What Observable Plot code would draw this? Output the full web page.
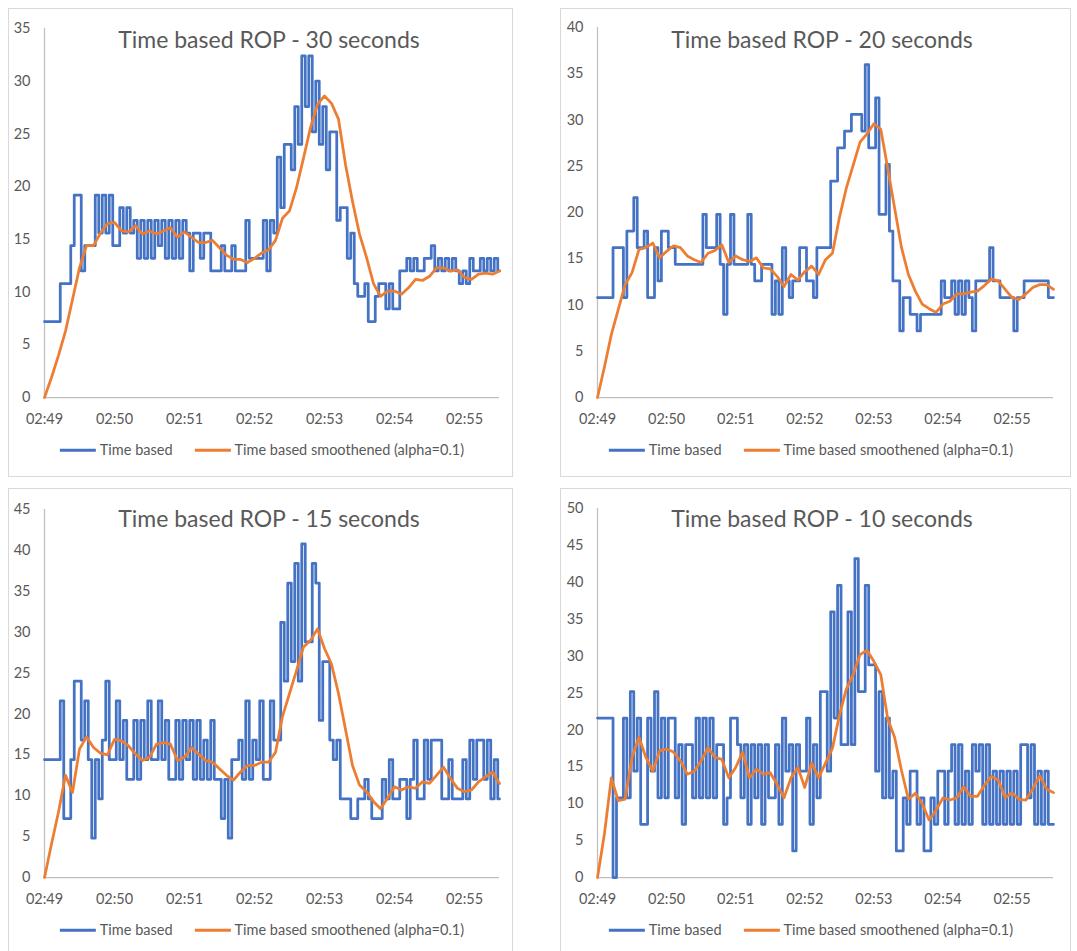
<!DOCTYPE html>
<html>
<head>
<meta charset="utf-8">
<script src="https://cdn.jsdelivr.net/npm/d3@7"></script>
<script src="https://cdn.jsdelivr.net/npm/@observablehq/plot@0.6"></script>
<style>
body{margin:0;background:#fff;font-family:Lato,"Open Sans",sans-serif;}
#root{position:relative;width:1077px;height:951px;overflow:hidden;background:#fff;}
.panel{position:absolute;border:1px solid #d9d9d9;box-sizing:border-box;background:#fff;}
.title{position:absolute;transform:translate(-50%,-50%);white-space:nowrap;color:#595959;font-size:23px;line-height:1;}
.legend{position:absolute;transform:translate(-50%,-50%);white-space:nowrap;color:#595959;font-size:14.5px;display:flex;align-items:center;line-height:1;}
.legend .item{display:flex;align-items:center;margin:0 11px;}
.sw{display:inline-block;width:36px;height:2.75px;margin-right:4px;}
.plot{position:absolute;}
</style>
</head>
<body>
<div id="root"></div>
<script>
// ---- data ----
const timeLabels = ["02:49","02:50","02:51","02:52","02:53","02:54","02:55"];
const tickSeconds = [0,60,120,180,240,300,360];
const blueStep = 3;    // seconds between "Time based" samples
const orangeStep = 6;  // seconds between smoothed samples
const seriesNames = ["Time based","Time based smoothened (alpha=0.1)"];
const titles = ["Time based ROP - 30 seconds","Time based ROP - 20 seconds","Time based ROP - 15 seconds","Time based ROP - 10 seconds"];

const yTicks30 = [0,5,10,15,20,25,30,35];
const yTicks20 = [0,5,10,15,20,25,30,35,40];
const yTicks15 = [0,5,10,15,20,25,30,35,40,45];
const yTicks10 = [0,5,10,15,20,25,30,35,40,45,50];

const blue30 = [
7.2,7.2,7.2,7.2,7.2,10.8,10.8,10.8,14.4,19.2,
19.2,12,14.4,14.4,14.4,19.2,15.6,19.2,15.6,19.2,
14.4,14.4,18,15.6,18,15.6,16.8,13.2,16.8,13.2,
16.8,13.2,16.8,14.4,16.8,13.2,16.8,13.2,16.8,13.2,
16.8,15.6,12,15.6,15.6,13.2,15.6,15.6,12,12,
12,14.4,12,12,14.4,12,12,12,16.8,13.2,
13.2,13.2,13.2,16.8,12,16.8,15.6,22.8,18,24,
24,21.6,27.6,24,32.4,27.6,32.4,25.2,30,24,
27.6,21.6,25.2,25.2,16.8,18,18,13.2,15.6,10.8,
9.6,9.6,10.8,7.2,7.2,9.6,10.8,10.8,8.4,10.8,
8.4,8.4,12,12,13.2,12,13.2,12,12,13.2,
13.2,14.4,12,13.2,12,13.2,12,13.2,12,10.8,
12,10.8,13.2,12,12,13.2,12,13.2,12,13.2,12];
const orange30 = [
0,1.9,4.0,6.3,9.3,12.3,14.4,14.4,15.6,16.5,
16.6,15.8,15.7,16.3,15.5,15.8,15.5,15.8,16.1,15.2,
15.7,15.2,14.7,14.7,14.9,14.2,13.5,13.1,13.1,12.8,
13.2,13.7,14.0,14.9,17.0,17.7,19.9,22.7,25.6,27.8,
28.6,27.9,26.4,22.1,18.6,15.5,13.3,10.8,9.6,10.1,
10.1,9.8,10.4,11.2,11.1,11.5,12.3,12.3,12.0,12.1,
11.4,11.2,11.7,11.8,11.7,12.0];

const blue20 = [
10.8,10.8,10.8,10.8,10.8,16.2,16.2,16.2,10.8,18,
18,21.6,16.2,16.2,18,10.8,10.8,16.2,12.6,18,
18,16.2,16.2,14.4,14.4,14.4,14.4,14.4,14.4,14.4,
14.4,19.8,16.2,16.2,16.2,19.8,14.4,9,14.4,19.8,
14.4,14.4,14.4,14.4,19.8,14.4,12.6,12.6,14.4,14.4,
14.4,9,12.6,9,16.2,12.6,10.8,12.6,12.6,16.2,
16.2,12.6,12.6,10.8,16.2,16.2,16.2,16.2,23.4,23.4,
27,27,28.8,28.8,30.6,30.6,30.6,28.8,36,27,
27,32.4,19.8,19.8,25.2,18,12.6,12.6,7.2,10.8,
10.8,9,9,7.2,9,9,9,9,9,9,
12.6,10.8,10.8,12.6,9,12.6,9,12.6,10.8,7.2,
12.6,12.6,12.6,12.6,16.2,12.6,12.6,10.8,10.8,10.8,
10.8,7.2,10.8,10.8,12.6,12.6,12.6,12.6,12.6,12.6,12.6,10.8,10.8];
const orange20 = [
0,3.3,6.8,9.5,12.2,13.5,16.0,16.2,16.7,15.1,
15.8,16.4,16.2,15.3,14.9,14.6,15.6,15.9,16.5,14.6,
15.3,14.9,14.7,15.1,14.0,13.9,13.1,12.0,13.3,12.7,
13.6,14.2,13.3,14.9,15.6,19.4,22.6,25.1,27.6,28.5,
29.6,29.0,24.8,20.5,16.2,13.3,11.5,10.1,9.6,9.2,
10.1,10.4,11.2,11.2,11.4,11.5,12.1,12.8,12.6,11.7,
10.8,10.6,11.2,11.9,12.2,12.2,11.7];

const blue15 = [
14.4,14.4,14.4,14.4,14.4,21.6,7.2,7.2,14.4,24,
24,16.8,21.6,14.4,4.8,14.4,9.6,16.8,24,14.4,
14.4,21.6,14.4,19.2,12,12,19.2,12,19.2,14.4,
21.6,14.4,14.4,21.6,14.4,19.2,12,12,19.2,12,
19.2,14.4,19.2,12,19.2,12,16.8,12,19.2,12,
12,7.2,12,4.8,14.4,14.4,16.8,12,21.6,12,
16.8,14.4,21.6,12,12,21.6,16.8,16.8,31.2,24,
36,26.4,38.4,24,40.8,28.8,28.8,38.4,36,19.2,
26.4,26.4,16.8,14.4,16.8,9.6,9.6,9.6,7.2,7.2,
9.6,9.6,12,9.6,7.2,7.2,7.2,12,9.6,14.4,
9.6,9.6,12,12,7.2,12,16.8,9.6,9.6,16.8,
12,16.8,16.8,16.8,9.6,9.6,14.4,9.6,9.6,9.6,
14.4,9.6,16.8,12,16.8,16.8,12,16.8,9.6,14.4,9.6];
const orange15 = [
0,4.1,8.0,12.5,10.4,15.7,17.2,15.9,15.2,15.0,
16.9,16.7,16.1,15.1,14.3,14.7,16.3,16.5,16.3,14.3,
14.7,15.9,15.1,14.3,14.1,13.3,12.5,11.9,12.9,13.7,
13.7,14.1,14.1,15.3,19.7,22.5,25.3,28.2,29.0,30.4,
28.0,26.1,22.5,18.1,13.7,11.3,10.5,9.3,8.4,9.7,
11.1,10.7,11.1,10.9,11.7,11.5,12.5,13.5,12.1,10.9,
10.5,10.7,11.7,12.3,12.9,11.5];

const blue10 = [
21.6,21.6,21.6,21.6,21.6,0,10.8,10.8,21.6,10.8,
25.2,14.4,21.6,7.2,7.2,21.6,14.4,25.2,10.8,21.6,
10.8,21.6,21.6,10.8,18,7.2,18,18,10.8,21.6,
10.8,21.6,10.8,21.6,10.8,18,18,7.2,10.8,21.6,
21.6,18,10.8,18,7.2,18,10.8,18,7.2,18,
10.8,10.8,18,7.2,21.6,14.4,18,3.6,18,14.4,
14.4,21.6,7.2,18,10.8,25.2,25.2,14.4,36,21.6,
39.6,18,18,36,18,43.2,25.2,25.2,39.6,28.8,
28.8,14.4,25.2,10.8,21.6,10.8,14.4,3.6,3.6,10.8,
7.2,14.4,14.4,7.2,10.8,3.6,3.6,10.8,7.2,14.4,
14.4,7.2,14.4,18,7.2,18,7.2,14.4,7.2,18,
14.4,18,7.2,18,7.2,14.4,7.2,14.4,7.2,14.4,
7.2,14.4,7.2,18,18,10.8,18,7.2,14.4,7.2,14.4,7.2,7.2];
const orange10 = [
0,5.9,13.5,10.4,10.6,16.3,19.0,16.3,14.4,17.2,
17.4,17.0,15.8,14.0,14.4,15.8,17.6,16.3,16.0,13.5,
14.9,17.0,13.5,14.7,14.0,14.2,12.6,10.8,13.5,14.9,
12.2,15.5,13.5,15.5,17.5,21.9,25.5,27.5,30.2,30.8,
29.3,27.5,21.5,19.0,14.5,10.6,11.4,10.0,7.8,9.1,
10.8,10.5,10.8,12.3,11.0,11.0,12.5,13.7,13.2,10.8,
11.5,10.6,10.5,12.0,13.8,12.0,11.5];

// ---- layout ----
const root = document.getElementById("root");
const panels = [
  {left:8,  top:8,   w:505, h:469, blue:blue30, orange:orange30, yTicks:yTicks30, tmax:390, ml:36, mr:14, mt:20, title:titles[0], tx:269, ty:39,  lx:262, ly:450},
  {left:560,top:8,   w:511, h:469, blue:blue20, orange:orange20, yTicks:yTicks20, tmax:396, ml:37, mr:18, mt:19, title:titles[1], tx:822, ty:39,  lx:811, ly:450},
  {left:8,  top:488, w:505, h:480, blue:blue15, orange:orange15, yTicks:yTicks15, tmax:390, ml:36, mr:14, mt:21, title:titles[2], tx:269, ty:518, lx:262, ly:930},
  {left:560,top:488, w:511, h:480, blue:blue10, orange:orange10, yTicks:yTicks10, tmax:396, ml:37, mr:18, mt:20, title:titles[3], tx:822, ty:518, lx:811, ly:930}
];
const colors = ["#4472c4","#ed7d31"];

for (const p of panels) {
  const box = document.createElement("div");
  box.className = "panel";
  Object.assign(box.style, {left:p.left+"px", top:p.top+"px", width:p.w+"px", height:p.h+"px"});
  root.appendChild(box);

  const blueData = p.blue.map((v,i)=>({t:i*blueStep, v}));
  const orangeData = p.orange.map((v,i)=>({t:i*orangeStep, v}));
  const ymax = p.yTicks[p.yTicks.length-1];

  const chart = Plot.plot({
    width: p.w, height: 430,
    marginLeft: p.ml, marginRight: p.mr, marginTop: p.mt, marginBottom: 41,
    style: {fontFamily: "Lato, 'Open Sans', sans-serif", fontSize: "14.5px", color: "#595959", background: "transparent", overflow: "visible"},
    x: {domain: [0, p.tmax]},
    y: {domain: [0, ymax]},
    marks: [
      Plot.ruleY([0], {stroke: "#bfbfbf", strokeWidth: 1.25}),
      Plot.ruleX([0], {stroke: "#bfbfbf", strokeWidth: 1.25}),
      Plot.axisX({ticks: tickSeconds, tickFormat: d => timeLabels[tickSeconds.indexOf(d)], tickSize: 0, tickPadding: 16, label: null}),
      Plot.axisY({ticks: p.yTicks, tickSize: 0, tickPadding: 14, label: null}),
      Plot.line(blueData, {x: "t", y: "v", curve: "step", stroke: colors[0], strokeWidth: 2.75, strokeLinejoin: "round"}),
      Plot.line(orangeData, {x: "t", y: "v", stroke: colors[1], strokeWidth: 2.75, strokeLinejoin: "round", strokeLinecap: "round"})
    ]
  });
  chart.classList.add("plot");
  chart.style.left = p.left + "px";
  chart.style.top = p.top + "px";
  root.appendChild(chart);

  const t = document.createElement("div");
  t.className = "title";
  t.textContent = p.title;
  t.style.left = p.tx + "px"; t.style.top = p.ty + "px";
  root.appendChild(t);

  const lg = document.createElement("div");
  lg.className = "legend";
  lg.style.left = p.lx + "px"; lg.style.top = p.ly + "px";
  seriesNames.forEach((name, k) => {
    const it = document.createElement("span");
    it.className = "item";
    const sw = document.createElement("span");
    sw.className = "sw"; sw.style.background = colors[k];
    it.appendChild(sw);
    it.appendChild(document.createTextNode(name));
    lg.appendChild(it);
  });
  root.appendChild(lg);
}
</script>
</body>
</html>
